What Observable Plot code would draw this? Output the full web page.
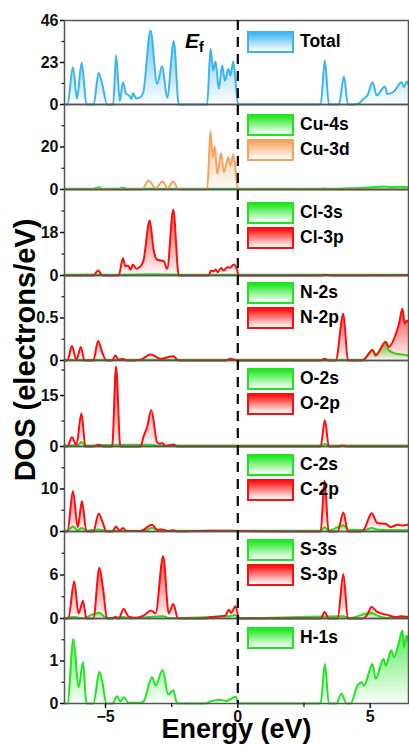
<!DOCTYPE html>
<html><head><meta charset="utf-8">
<script src="https://cdn.jsdelivr.net/npm/d3@7"></script>
<script src="https://cdn.jsdelivr.net/npm/@observablehq/plot@0.6"></script>
<style>
body{margin:0;background:#fff;}
#chart{position:relative;width:409px;height:748px;font-family:"Liberation Sans",Arial,sans-serif;overflow:hidden;background:#fff;}
.panel{position:absolute;left:0;}
.legend{position:absolute;left:247px;}
.lg-item{display:flex;align-items:center;height:25px;}
.lg-box{width:43px;height:18px;border:2px solid;box-sizing:content-box;}
.lg-text{margin-left:6px;font-weight:bold;font-size:17.5px;color:#000;}
#ylab{position:absolute;left:25px;top:350px;transform:translate(-50%,-50%) rotate(-90deg);font-weight:bold;font-size:29px;white-space:nowrap;color:#000;}
#ef{position:absolute;left:185px;top:30px;font-weight:bold;font-size:21px;line-height:21px;color:#000;white-space:nowrap;}
#ef i{font-style:italic;}
#ef span{font-size:14px;position:relative;top:4px;}
</style></head><body><div id="chart"></div><script>
// ---- data: [energy (eV), DOS (electrons/eV)] ----
const total = [[-6.55,0],[-6.44,0],[-6.23,20.4],[-6.08,3.3],[-5.90,22.8],[-5.72,0],[-5.45,0],[-5.26,17.2],[-5.13,11.5],[-4.94,0],[-4.71,0],[-4.60,26.8],[-4.46,2],[-4.34,12.2],[-4.22,5.8],[-4.11,5],[-4.02,3],[-3.96,6.2],[-3.84,3.3],[-3.68,4],[-3.57,6.8],[-3.30,40.5],[-3.05,11.3],[-2.86,21],[-2.67,3.7],[-2.42,34.7],[-2.23,0],[-1.16,0],[-1.03,30.5],[-0.93,18.6],[-0.84,23.5],[-0.72,8.6],[-0.59,21.4],[-0.49,13],[-0.36,19.5],[-0.28,15.9],[-0.17,23.5],[0.01,0],[3.13,0],[3.29,24.1],[3.44,0],[3.82,0],[4.01,15.3],[4.16,0],[4.39,0],[4.64,1.3],[4.71,2.6],[4.90,5],[5.09,12.2],[5.25,5],[5.56,9.9],[5.65,5.8],[5.90,7.1],[6.19,12.2],[6.28,9.5],[6.38,12.6],[6.45,11]];
const cu3d = [[-6.55,0],[-3.62,0],[-3.37,4.2],[-3.11,0.6],[-2.84,3.8],[-2.66,0.5],[-2.44,3.8],[-2.24,0],[-1.16,0],[-1.03,27.4],[-0.95,15.2],[-0.87,20.4],[-0.78,7.4],[-0.63,17.1],[-0.53,8.1],[-0.36,15.2],[-0.28,11.3],[-0.17,16.5],[0.01,0],[6.45,0]];
const cu4s = [[-6.55,0.3],[-5.45,0.3],[-5.26,1.1],[-5.1,0.3],[-4.5,0.3],[-4.34,0.9],[-4.2,0.3],[-3.5,0.3],[-3.3,0.5],[-3.1,0.3],[0,0.3],[3.0,0.3],[3.29,0.5],[3.5,0.3],[4.0,0.5],[4.5,0.6],[5.0,0.9],[5.5,1.4],[5.8,1.1],[6.1,1.3],[6.45,1.2]];
const cl3p = [[-6.55,0],[-5.46,0],[-5.28,2.1],[-5.12,0],[-4.50,0],[-4.34,7.2],[-4.25,3.8],[-4.15,4.2],[-4.06,2.4],[-3.96,4.6],[-3.84,2.8],[-3.68,3.8],[-3.57,6],[-3.33,23],[-3.18,10.5],[-3.05,6.6],[-2.80,6],[-2.67,2.8],[-2.44,27.5],[-2.23,0],[-1.10,0],[-1.01,2.1],[-0.91,1.7],[-0.84,2.5],[-0.76,1.4],[-0.63,3.1],[-0.53,2.1],[-0.40,3.5],[-0.30,3.2],[-0.15,4.6],[-0.02,2.1],[0.03,0],[3.2,0],[3.3,0.3],[3.5,0],[6.45,0.1]];
const cl3s = [[-6.55,0.3],[-5.28,0.4],[-4.6,0.3],[-3.33,0.5],[-2.44,0.4],[-1.5,0.3],[0,0.3],[3.0,0.3],[6.45,0.3]];
const n2p = [[-6.55,0],[-6.44,0],[-6.27,0.17],[-6.10,0.01],[-5.93,0.16],[-5.80,0],[-5.46,0],[-5.28,0.23],[-5.13,0.1],[-4.97,0],[-4.74,0],[-4.63,0.06],[-4.51,0.01],[-4.35,0.02],[-4.21,0],[-3.68,0.01],[-3.30,0.07],[-2.92,0.02],[-2.44,0.05],[-2.24,0],[-0.47,0],[-0.28,0.02],[0,0],[3.13,0],[3.28,0.02],[3.43,0],[3.70,0],[3.99,0.55],[4.16,0],[4.72,0],[4.83,0.03],[5.09,0.12],[5.21,0.06],[5.59,0.22],[5.71,0.16],[5.97,0.31],[6.09,0.43],[6.22,0.61],[6.31,0.43],[6.38,0.47],[6.45,0.45]];
const n2s = [[-6.55,0.01],[4.72,0.01],[4.83,0.03],[5.09,0.13],[5.21,0.07],[5.59,0.21],[5.71,0.12],[5.97,0.08],[6.22,0.07],[6.45,0.06]];
const o2p = [[-6.55,0],[-6.44,0],[-6.27,2.7],[-6.10,0.5],[-5.91,9.7],[-5.76,0],[-5.46,0],[-5.26,0.5],[-5.08,0],[-4.75,0],[-4.60,23.5],[-4.44,0],[-3.68,0],[-3.56,3],[-3.43,5.6],[-3.27,10.7],[-3.05,1.2],[-2.95,0.8],[-2.86,1],[-2.74,0.2],[-2.44,0.6],[-2.28,0],[3.13,0],[3.29,7.8],[3.44,0],[3.81,0],[3.95,0.3],[4.11,0],[6.45,0]];
const o2s = [[-6.55,0.3],[-6.27,0.4],[-6.05,0.3],[-5.91,1.3],[-5.76,0.3],[-4.6,0.5],[-3.27,0.5],[-3.0,0.3],[3.13,0.3],[3.29,0.7],[3.44,0.3],[6.45,0.3]];
const c2p = [[-6.55,0],[-6.44,0],[-6.23,9.5],[-6.05,1],[-5.89,7.1],[-5.72,0],[-5.46,0],[-5.26,4.2],[-5.11,2.2],[-4.97,0],[-4.74,0],[-4.60,1.2],[-4.48,0.2],[-4.34,0.8],[-4.21,0.1],[-3.68,0.1],[-3.24,1.6],[-3.04,0.4],[-2.86,0.5],[-2.66,0.1],[-2.44,0.3],[-2.28,0],[-1.03,0.2],[-0.47,0.2],[0,0.1],[3.13,0],[3.28,12],[3.43,0],[3.77,0],[3.99,4.5],[4.16,0],[4.64,0],[4.77,0.5],[5.06,4.3],[5.27,2],[5.59,1.8],[5.78,1],[6.03,1.6],[6.22,1.4],[6.41,1.6],[6.45,1.5]];
const c2s = [[-6.55,0.2],[-6.44,0.2],[-6.23,1.2],[-6.05,0.3],[-5.89,0.8],[-5.72,0.2],[-5.26,0.5],[-5.0,0.2],[-3.5,0.2],[-3.24,0.9],[-3.0,0.2],[3.13,0.2],[3.28,1.0],[3.43,0.2],[3.99,1.5],[4.2,0.4],[4.77,0.3],[5.06,0.8],[5.3,0.4],[6.45,0.3]];
const s3p = [[-6.55,0],[-6.41,0],[-6.18,5.1],[-6.02,0.7],[-5.85,2.4],[-5.72,0],[-5.46,0],[-5.23,7],[-5.09,4],[-4.94,0],[-4.74,0],[-4.63,0.2],[-4.51,0],[-4.31,1.3],[-4.14,0.3],[-3.87,0.1],[-3.56,0.4],[-3.28,1.1],[-3.11,0.7],[-2.82,8.6],[-2.61,0.7],[-2.44,2],[-2.26,0],[-1.22,0],[-1.03,0.2],[-0.65,0.3],[-0.47,0.4],[-0.34,1.2],[-0.25,0.8],[-0.09,1.7],[0.05,0],[3.13,0],[3.28,0.9],[3.43,0],[3.77,0],[3.99,6.1],[4.16,0],[4.72,0],[4.87,0.4],[5.05,1.6],[5.27,0.9],[5.65,0.5],[5.97,0.2],[6.16,0.3],[6.45,0.2]];
const s3s = [[-6.55,0.05],[-6.18,0.2],[-5.9,0.05],[-5.23,0.8],[-5.09,0.4],[-4.94,0.05],[-4.31,0.2],[-4.1,0.05],[-2.82,0.3],[-2.6,0.05],[-0.34,0.3],[-0.09,0.5],[0.05,0.05],[3.99,0.3],[4.2,0.05],[5.05,0.8],[5.27,0.4],[5.6,0.1],[6.45,0.1]];
const h1s = [[-6.55,0],[-6.44,0],[-6.21,1.52],[-6.02,0.38],[-5.85,0.97],[-5.72,0],[-5.46,0],[-5.23,0.74],[-5.13,0.54],[-4.97,0],[-4.74,0],[-4.56,0.17],[-4.44,0.05],[-4.31,0.15],[-4.14,0.02],[-3.68,0.02],[-3.56,0.05],[-3.24,0.62],[-3.11,0.42],[-2.84,0.79],[-2.63,0.21],[-2.44,0.31],[-2.29,0],[-1.22,0],[-1.03,0.05],[-0.65,0.08],[-0.43,0.06],[-0.28,0.1],[-0.09,0.16],[0.05,0],[3.13,0],[3.29,0.93],[3.44,0],[3.73,0],[3.91,0.23],[4.11,0],[4.26,0],[4.52,0.42],[4.68,0.5],[4.77,0.42],[5.09,0.93],[5.21,0.58],[5.50,1.05],[5.59,0.89],[5.80,1.25],[5.90,1.09],[6.09,1.44],[6.22,1.72],[6.28,1.32],[6.38,1.6],[6.45,1.45]];

// ---- axes ----
const xDomain = [-6.55, 6.45];
const xTicks = [-5, 0, 5];
const xMinor = [-2.5, 2.5];
const yMax   = [46, 40, 36, 1, 25.3, 20, 12, 2];
const yMajor = [[0,23,46],[0,20],[0,18],[0,0.5],[0,15],[0,10],[0,6],[0,1]];
const yMinor = [[11.5,34.5],[10,30],[9,27],[0.25,0.75],[7.5,22.5],[5,15],[3,9],[0.5,1.5]];

// ---- series per panel (drawn in order) & legend labels ----
const colors = {blue:"#3cb4f4", orange:"#f5a25f", green:"#1ee61e", red:"#ff0d0d"};
const panelSeries = [
  [["Total", total, "blue"]],
  [["Cu-4s", cu4s, "green"], ["Cu-3d", cu3d, "orange"]],
  [["Cl-3s", cl3s, "green"], ["Cl-3p", cl3p, "red"]],
  [["N-2s", n2s, "green"], ["N-2p", n2p, "red"]],
  [["O-2s", o2s, "green"], ["O-2p", o2p, "red"]],
  [["C-2s", c2s, "green"], ["C-2p", c2p, "red"]],
  [["S-3s", s3s, "green"], ["S-3p", s3p, "red"]],
  [["H-1s", h1s, "green"]]
];
const legendLabels = [
  [["Total","blue"]],
  [["Cu-4s","green"],["Cu-3d","orange"]],
  [["Cl-3s","green"],["Cl-3p","red"]],
  [["N-2s","green"],["N-2p","red"]],
  [["O-2s","green"],["O-2p","red"]],
  [["C-2s","green"],["C-2p","red"]],
  [["S-3s","green"],["S-3p","red"]],
  [["H-1s","green"]]
];

// ---- layout ----
const panelTops = [20,104,189,275,360,446,531,618];
const plotBottom = 703;
const legendTops = [29,112,200,280,366,452,537,625];
const W = 409, ML = 64, MR = 1, XAXIS_H = 45;

const chart = document.getElementById("chart");

// gradient defs
const defs = d3.select(chart).append("svg").attr("width",0).attr("height",0)
  .style("position","absolute").append("defs");
for (const [k, c] of Object.entries(colors)) {
  const g = defs.append("linearGradient").attr("id","grad-"+k).attr("x1",0).attr("y1",0).attr("x2",0).attr("y2",1);
  g.append("stop").attr("offset","0%").attr("stop-color",c).attr("stop-opacity",0.75);
  g.append("stop").attr("offset","100%").attr("stop-color",c).attr("stop-opacity",0.03);
}

const fontFamily = '"Liberation Sans", Arial, sans-serif';

panelTops.forEach((top, i) => {
  const last = i === panelTops.length - 1;
  const h = (last ? plotBottom : panelTops[i+1]) - top;
  const marks = [];
  for (const [name, arr, ck] of panelSeries[i]) {
    const rows = arr.map(([e, v]) => ({e, v, name}));
    marks.push(Plot.areaY(rows, {x:"e", y:"v", fill:`url(#grad-${ck})`, curve:"monotone-x"}));
    marks.push(Plot.lineY(rows, {x:"e", y:"v", stroke:colors[ck], strokeWidth:2, curve:"monotone-x"}));
  }
  marks.push(Plot.frame({stroke:"#555", strokeWidth:1.5}));
  marks.push(Plot.axisY(yMajor[i], {anchor:"left", tickSize:4, tickPadding:2, strokeWidth:1.5,
    fontSize:16, fontWeight:"bold", fill:"#111", tickFormat: d => String(d)}));
  marks.push(Plot.axisY(yMinor[i], {anchor:"left", tickSize:2.5, strokeWidth:1.2, tickFormat: () => ""}));
  if (last) {
    marks.push(Plot.axisX(xTicks, {anchor:"bottom", tickSize:5, tickPadding:2, strokeWidth:1.5,
      fontSize:16, fontWeight:"bold", fill:"#111"}));
    marks.push(Plot.axisX(xMinor, {anchor:"bottom", tickSize:4, strokeWidth:1.2, tickFormat: () => ""}));
    marks.push(Plot.text(["Energy (eV)"], {frameAnchor:"bottom", dy:34, fontSize:27, fontWeight:"bold", fill:"#000"}));
  }
  const svg = Plot.plot({
    width: W, height: h + (last ? XAXIS_H : 0),
    marginLeft: ML, marginRight: MR, marginTop: 0, marginBottom: last ? XAXIS_H : 0,
    x: {domain: xDomain, axis: null, label: null},
    y: {domain: [0, yMax[i]], axis: null, label: null},
    style: {background:"transparent", overflow:"visible", fontFamily, fontWeight:"bold", fontSize:"16px", color:"#111"},
    marks
  });
  svg.classList.add("panel");
  svg.style.top = top + "px";
  chart.appendChild(svg);

  // legend
  const lg = document.createElement("div");
  lg.className = "legend";
  lg.style.top = legendTops[i] + "px";
  for (const [label, ck] of legendLabels[i]) {
    const item = document.createElement("div");
    item.className = "lg-item";
    const box = document.createElement("div");
    box.className = "lg-box";
    box.style.borderColor = colors[ck];
    box.style.background = `linear-gradient(to bottom, ${colors[ck]}, #ffffff)`;
    const t = document.createElement("span");
    t.className = "lg-text";
    t.textContent = label;
    item.appendChild(box); item.appendChild(t);
    lg.appendChild(item);
  }
  chart.appendChild(lg);
});

// Fermi level dashed line across all panels
const ef = Plot.plot({
  width: W, height: plotBottom - panelTops[0],
  marginLeft: ML, marginRight: MR, marginTop: 0, marginBottom: 0,
  x: {domain: xDomain, axis: null},
  style: {background:"transparent", overflow:"visible"},
  marks: [Plot.ruleX([0], {stroke:"#111", strokeWidth:2.3, strokeDasharray:"10,7"})]
});
ef.classList.add("panel");
ef.style.top = panelTops[0] + "px";
ef.style.pointerEvents = "none";
chart.appendChild(ef);

const efl = document.createElement("div");
efl.id = "ef";
efl.innerHTML = "<i>E</i><span>f</span>";
chart.appendChild(efl);

const yl = document.createElement("div");
yl.id = "ylab";
yl.textContent = "DOS (electrons/eV)";
chart.appendChild(yl);
</script></body></html>
